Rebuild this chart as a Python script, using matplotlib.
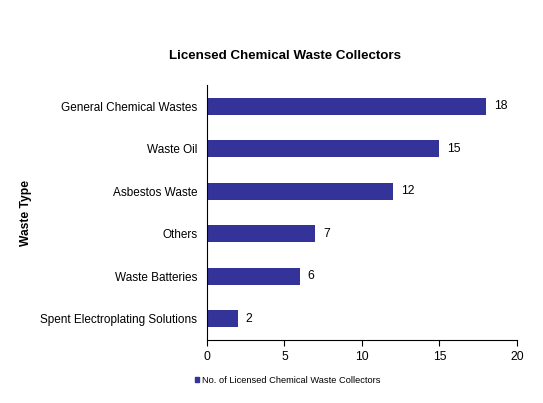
import matplotlib
matplotlib.use("Agg")
import matplotlib.pyplot as plt
from matplotlib.patches import Patch

plt.rcParams['font.family'] = ['Liberation Sans', 'DejaVu Sans']

categories = ["Spent Electroplating Solutions", "Waste Batteries", "Others",
              "Asbestos Waste", "Waste Oil", "General Chemical Wastes"]
collectors = [2, 6, 7, 12, 15, 18]
bar_color = "#333399"

fig = plt.figure(figsize=(5.43, 4.03), dpi=100)
ax = fig.add_axes([0.381, 0.156, 0.571, 0.633])

ax.barh(range(len(categories)), collectors, height=0.4, color=bar_color)
for i, v in enumerate(collectors):
    ax.text(v + 0.5, i, str(v), va="center", ha="left", fontsize=8.7)

ax.set_yticks(range(len(categories)))
ax.set_yticklabels(categories, fontsize=8.5)
ax.set_ylim(-0.5, 5.5)
ax.set_xlim(0, 20)
ax.set_xticks([0, 5, 10, 15, 20])
ax.tick_params(axis="x", labelsize=8.7, length=4, direction="out")
ax.tick_params(axis="y", length=0, pad=7)
ax.spines["top"].set_visible(False)
ax.spines["right"].set_visible(False)

ax.set_ylabel("Waste Type", fontsize=8.7, fontweight="bold")
ax.yaxis.set_label_coords(-0.565, 0.5)
fig.text(0.525, 0.862, "Licensed Chemical Waste Collectors", ha="center",
         va="center", fontsize=9.6, fontweight="bold")

fig.legend(handles=[Patch(color=bar_color, label="No. of Licensed Chemical Waste Collectors")],
           loc="center", bbox_to_anchor=(0.53, 0.057), frameon=False, fontsize=6.7,
           handlelength=0.5, handleheight=0.5, handletextpad=0.3)

fig.savefig("out.png", dpi=100)
